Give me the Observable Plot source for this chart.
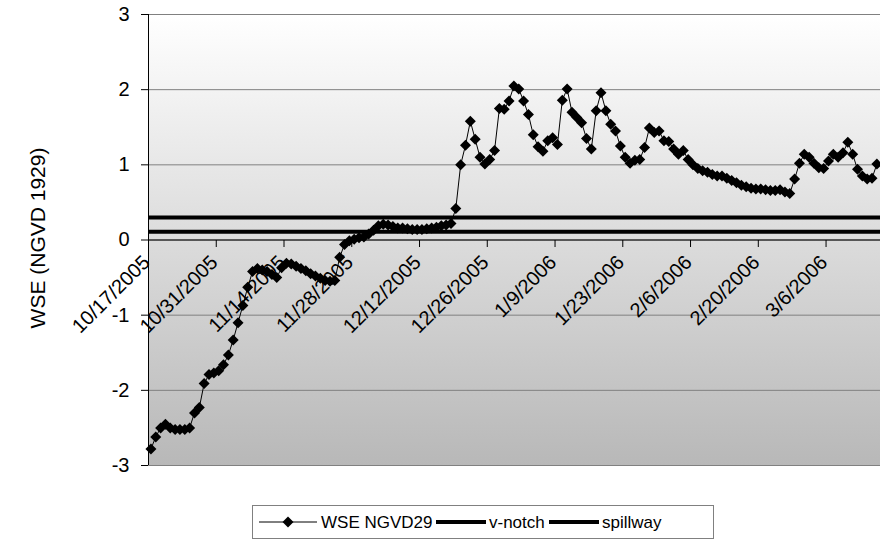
<!DOCTYPE html>
<html>
<head>
<meta charset="utf-8">
<script src="https://cdn.jsdelivr.net/npm/d3@7"></script>
<script src="https://cdn.jsdelivr.net/npm/@observablehq/plot@0.6"></script>
<style>
  html, body { margin: 0; padding: 0; background: #fff; overflow: hidden; }
  #wrap { position: relative; width: 880px; height: 546px; font-family: "Liberation Sans", Arial, sans-serif; }
  #legend { position: absolute; left: 252px; top: 505px; width: 462px; height: 34px;
            border: 1px solid #808080; background: #fff; box-sizing: border-box; }
  #legend svg { display: block; }
</style>
</head>
<body>
<div id="wrap"><div id="chart"></div><div id="legend"></div></div>
<script>
// ---- data ----
const startDate = "2005-10-17";           // first daily observation
const xEndDate = "2006-03-17T06:00Z";     // where the picture is cut on the right
const wse = [
  -2.78, -2.62, -2.50, -2.45, -2.50, -2.52, -2.52, -2.52, -2.50, -2.30,
  -2.23, -1.91, -1.79, -1.77, -1.74, -1.66, -1.53, -1.33, -1.10, -0.87,
  -0.63, -0.42, -0.38, -0.40, -0.42, -0.46, -0.50, -0.37, -0.31, -0.32,
  -0.35, -0.38, -0.41, -0.45, -0.48, -0.51, -0.54, -0.55, -0.54, -0.23,
  -0.06, -0.01, 0.01, 0.03, 0.04, 0.08, 0.13, 0.19, 0.21, 0.20,
  0.18, 0.16, 0.16, 0.15, 0.14, 0.14, 0.14, 0.15, 0.16, 0.17,
  0.19, 0.20, 0.22, 0.42, 1.00, 1.26, 1.58, 1.34, 1.10, 1.01,
  1.07, 1.19, 1.75, 1.74, 1.85, 2.05, 2.01, 1.85, 1.67, 1.40,
  1.24, 1.18, 1.32, 1.36, 1.27, 1.86, 2.01, 1.70, 1.63, 1.56,
  1.35, 1.21, 1.72, 1.96, 1.72, 1.54, 1.45, 1.25, 1.10, 1.02,
  1.06, 1.07, 1.23, 1.49, 1.43, 1.45, 1.32, 1.31, 1.21, 1.14,
  1.19, 1.07, 1.00, 0.95, 0.92, 0.90, 0.87, 0.85, 0.85, 0.82,
  0.79, 0.76, 0.73, 0.71, 0.69, 0.68, 0.68, 0.67, 0.66, 0.66,
  0.67, 0.64, 0.62, 0.81, 1.02, 1.14, 1.10, 1.02, 0.96, 0.95,
  1.05, 1.14, 1.10, 1.16, 1.30, 1.14, 0.94, 0.85, 0.81, 0.82,
  1.01
];
const vNotch = 0.30;
const spillway = 0.11;
const xTickLabels = ["10/17/2005","10/31/2005","11/14/2005","11/28/2005","12/12/2005","12/26/2005",
                     "1/9/2006","1/23/2006","2/6/2006","2/20/2006","3/6/2006"];
const yTicks = [-3, -2, -1, 0, 1, 2, 3];
const seriesNames = ["WSE NGVD29", "v-notch", "spillway"];
const yTitle = "WSE (NGVD 1929)";

// ---- derived tables ----
const parseMDY = d3.utcParse("%m/%d/%Y");
const start = d3.utcParse("%Y-%m-%d")(startDate);
const rows = wse.map((v, i) => ({date: d3.utcHour.offset(d3.utcDay.offset(start, i), 12), value: v}));
const tickDates = xTickLabels.map(s => ({date: parseMDY(s), label: s}));
const xDomain = [start, new Date(xEndDate)];

const diamond = {draw(ctx, size) { const r = Math.sqrt(size / Math.PI);
  ctx.moveTo(0, -r); ctx.lineTo(r, 0); ctx.lineTo(0, r); ctx.lineTo(-r, 0); ctx.closePath(); }};
const downTick = {draw(ctx, size) { const r = Math.sqrt(size / Math.PI);
  ctx.moveTo(0, 0); ctx.lineTo(0, r); }};

const chart = Plot.plot({
  width: 880,
  height: 490,
  marginLeft: 148,
  marginRight: 0,
  marginTop: 14,
  marginBottom: 25,
  style: {fontFamily: "'Liberation Sans', Arial, sans-serif", fontSize: "20px", background: "transparent", color: "#000"},
  x: {type: "utc", domain: xDomain, axis: null},
  y: {domain: [-3, 3], ticks: yTicks, tickSize: 7, tickPadding: 12, label: null, tickFormat: d => d < 0 ? "-" + Math.abs(d) : String(d)},
  marks: [
    Plot.frame({fill: "url(#bgGrad)", stroke: "#808080"}),
    Plot.ruleY(yTicks, {stroke: "#808080", strokeWidth: 1}),
    Plot.ruleY([vNotch, spillway], {stroke: "#000", strokeWidth: 4}),
    Plot.ruleY([0], {stroke: "#000", strokeWidth: 1}),
    Plot.ruleX([start], {stroke: "#000", strokeWidth: 1}),
    Plot.dot(tickDates, {x: "date", y: () => 0, symbol: downTick, r: 7, stroke: "#000", fill: "none", strokeWidth: 1}),
    Plot.text(tickDates, {x: "date", y: () => 0, text: "label", rotate: -45, textAnchor: "end", dx: -2, dy: 19, fill: "#000", fontSize: 20}),
    Plot.line(rows, {x: "date", y: "value", stroke: "#000", strokeWidth: 1}),
    Plot.dot(rows, {x: "date", y: "value", symbol: diamond, r: 5.5, fill: "#000", stroke: "none"}),
    Plot.text([yTitle], {frameAnchor: "left", textAnchor: "middle", rotate: -90, dx: -110, dy: -2, fill: "#000", fontSize: 21})
  ]
});

d3.select(chart).insert("defs", ":first-child").html(
  '<linearGradient id="bgGrad" x1="0" y1="0" x2="0" y2="1">' +
  '<stop offset="0" stop-color="#ffffff"/><stop offset="1" stop-color="#b8b8b8"/></linearGradient>');
document.getElementById("chart").appendChild(chart);

// ---- legend ----
const lg = d3.select("#legend").append("svg").attr("width", 460).attr("height", 32)
  .style("font-family", "'Liberation Sans', Arial, sans-serif").style("font-size", "17px");
const items = [
  {name: seriesNames[0], x0: 6, x1: 64, w: 1, marker: true, tx: 68},
  {name: seriesNames[1], x0: 183, x1: 233, w: 4, marker: false, tx: 236},
  {name: seriesNames[2], x0: 296, x1: 346, w: 4, marker: false, tx: 349}
];
items.forEach(it => {
  lg.append("line").attr("x1", it.x0).attr("x2", it.x1).attr("y1", 16).attr("y2", 16)
    .attr("stroke", "#000").attr("stroke-width", it.w);
  if (it.marker) {
    const c = (it.x0 + it.x1) / 2;
    lg.append("path").attr("d", `M${c},10.5L${c+5.5},16L${c},21.5L${c-5.5},16Z`).attr("fill", "#000");
  }
  lg.append("text").attr("x", it.tx).attr("y", 22).text(it.name);
});
</script>
</body>
</html>
